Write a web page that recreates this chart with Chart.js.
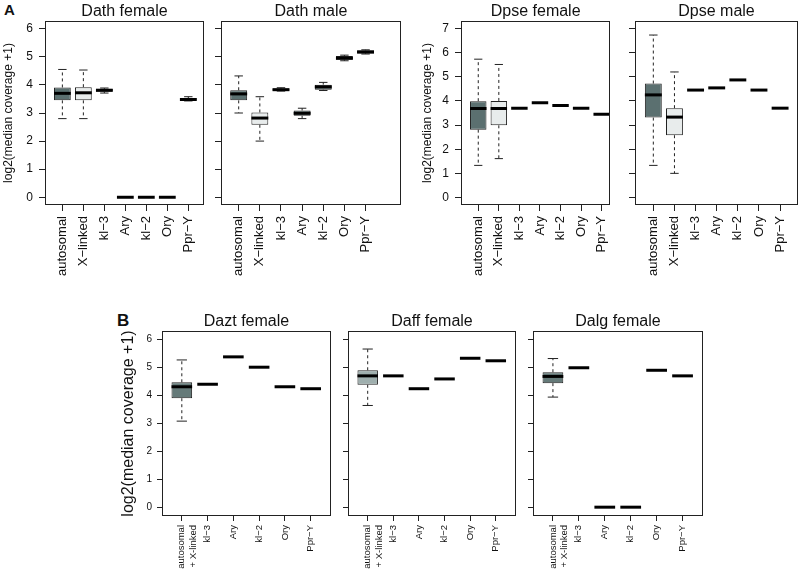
<!DOCTYPE html>
<html>
<head>
<meta charset="utf-8">
<script src="https://cdn.jsdelivr.net/npm/chart.js@4.4.1/dist/chart.umd.min.js"></script>
<style>
body { margin: 0; background: #fff; width: 800px; height: 579px; position: relative; overflow: hidden; font-family: "Liberation Sans", Arial, sans-serif; }
canvas { position: absolute; }
.tag { position: absolute; font-weight: bold; color: #111; }
</style>
</head>
<body>
<div class="tag" style="left:4px;top:1px;font-size:15px">A</div>
<div class="tag" style="left:117px;top:311px;font-size:17px">B</div>
<canvas id="dathF"></canvas>
<canvas id="dathM"></canvas>
<canvas id="dpseF"></canvas>
<canvas id="dpseM"></canvas>
<canvas id="daztF"></canvas>
<canvas id="daffF"></canvas>
<canvas id="dalgF"></canvas>
<script>
// categories
var catsA = ["autosomal", "X\u2212linked", "kl\u22123", "Ary", "kl\u22122", "Ory", "Ppr\u2212Y"];
var catsB = [["autosomal", "+ X-linked"], "kl\u22123", "Ary", "kl\u22122", "Ory", "Ppr\u2212Y"];

// y tick labels
var ticksDath = [0, 1, 2, 3, 4, 5, 6];
var ticksDpse = [0, 1, 2, 3, 4, 5, 6, 7];
var ticksB = [0, 1, 2, 3, 4, 5, 6];

// Dath female
var dathF_min = [2.80, 2.80, 3.71, 0, 0, 0, 3.43];
var dathF_q1  = [3.45, 3.45, 3.76, 0, 0, 0, 3.44];
var dathF_med = [3.70, 3.72, 3.81, 0, 0, 0, 3.48];
var dathF_q3  = [3.91, 3.92, 3.86, 0, 0, 0, 3.53];
var dathF_max = [4.55, 4.53, 3.89, 0, 0, 0, 3.58];

// Dath male
var dathM_min = [3.00, 2.00, 3.78, 2.80, 3.80, 4.86, 5.10];
var dathM_q1  = [3.45, 2.58, 3.79, 2.90, 3.83, 4.90, 5.12];
var dathM_med = [3.68, 2.82, 3.83, 2.99, 3.93, 4.95, 5.17];
var dathM_q3  = [3.81, 3.02, 3.87, 3.09, 4.01, 5.03, 5.23];
var dathM_max = [4.32, 3.58, 3.90, 3.17, 4.09, 5.06, 5.25];

// Dpse female
var dpseF_min = [1.33, 1.61, 3.70, 3.92, 3.81, 3.70, 3.45];
var dpseF_q1  = [2.81, 2.99, 3.70, 3.92, 3.81, 3.70, 3.45];
var dpseF_med = [3.69, 3.69, 3.70, 3.92, 3.81, 3.70, 3.45];
var dpseF_q3  = [3.99, 4.00, 3.70, 3.92, 3.81, 3.70, 3.45];
var dpseF_max = [5.73, 5.51, 3.70, 3.92, 3.81, 3.70, 3.45];

// Dpse male
var dpseM_min = [1.33, 1.00, 4.45, 4.54, 4.87, 4.45, 3.70];
var dpseM_q1  = [3.31, 2.58, 4.45, 4.54, 4.87, 4.45, 3.70];
var dpseM_med = [4.25, 3.33, 4.45, 4.54, 4.87, 4.45, 3.70];
var dpseM_q3  = [4.72, 3.70, 4.45, 4.54, 4.87, 4.45, 3.70];
var dpseM_max = [6.73, 5.20, 4.45, 4.54, 4.87, 4.45, 3.70];

// Dazt female
var daztF_min = [3.08, 4.40, 5.38, 5.01, 4.31, 4.24];
var daztF_q1  = [3.90, 4.40, 5.38, 5.01, 4.31, 4.24];
var daztF_med = [4.31, 4.40, 5.38, 5.01, 4.31, 4.24];
var daztF_q3  = [4.47, 4.40, 5.38, 5.01, 4.31, 4.24];
var daztF_max = [5.27, 4.40, 5.38, 5.01, 4.31, 4.24];

// Daff female
var daffF_min = [3.64, 4.70, 4.24, 4.59, 5.33, 5.24];
var daffF_q1  = [4.38, 4.70, 4.24, 4.59, 5.33, 5.24];
var daffF_med = [4.70, 4.70, 4.24, 4.59, 5.33, 5.24];
var daffF_q3  = [4.90, 4.70, 4.24, 4.59, 5.33, 5.24];
var daffF_max = [5.66, 4.70, 4.24, 4.59, 5.33, 5.24];

// Dalg female
var dalgF_min = [3.94, 4.99, 0, 0, 4.90, 4.70];
var dalgF_q1  = [4.44, 4.99, 0, 0, 4.90, 4.70];
var dalgF_med = [4.68, 4.99, 0, 0, 4.90, 4.70];
var dalgF_q3  = [4.83, 4.99, 0, 0, 4.90, 4.70];
var dalgF_max = [5.32, 4.99, 0, 0, 4.90, 4.70];

Chart.defaults.font.family = '"Liberation Sans", Arial, Helvetica, sans-serif';
Chart.defaults.color = '#111';

var frame = {
    id: 'frame',
    afterDatasetsDraw: function (chart) {
        var a = chart.chartArea, ctx = chart.ctx;
        ctx.save();
        ctx.strokeStyle = '#222';
        ctx.lineWidth = 1;
        var l = Math.round(a.left) - 0.5, t = Math.round(a.top) - 0.5;
        ctx.strokeRect(l, t, Math.round(a.right) - Math.round(a.left) + 1, Math.round(a.bottom) - Math.round(a.top) + 1);
        ctx.restore();
    }
};

var dark = '#5b7070', light = '#e8ecec';

// pixel width of a span of x units
function xWidth(units) {
    return function (c) {
        var s = c.chart.scales.x;
        return Math.abs(s.getPixelForValue(1 + units) - s.getPixelForValue(1));
    };
}

function boxPanel(id, p) {
    var el = document.getElementById(id);
    var left = p.area[0] - p.yW;
    var w = p.area[2] - left + 10;
    var h = p.area[3] - p.top0 + p.xH;
    el.width = w; el.height = h;
    el.style.left = left + 'px'; el.style.top = p.top0 + 'px';
    el.style.width = w + 'px'; el.style.height = h + 'px';

    var pos = p.cats.map(function (c, i) { return i + 1; });
    var whisk = [], caps = [];
    pos.forEach(function (x, i) {
        whisk.push({ x: x, y: p.q3[i] }, { x: x, y: p.max[i] }, { x: x, y: null },
                   { x: x, y: p.q1[i] }, { x: x, y: p.min[i] }, { x: x, y: null });
        caps.push({ x: x, y: p.max[i] }, { x: x, y: p.min[i] });
    });

    var ttSize = 16;
    var tPadTop = p.titleY - p.top0 - ttSize * 0.6;
    var tPadBot = p.area[1] - p.top0 - ttSize * 1.2 - tPadTop;

    new Chart(el, {
        type: 'bar',
        data: {
            datasets: [{
                type: 'line',
                data: caps,
                showLine: false,
                pointStyle: 'line',
                pointRadius: xWidth(0.2),
                pointBorderColor: '#222',
                pointBorderWidth: 1,
                order: 1
            }, {
                type: 'line',
                data: pos.map(function (x, i) { return { x: x, y: p.med[i] }; }),
                showLine: false,
                pointStyle: 'line',
                pointRadius: xWidth(0.4),
                pointBorderColor: '#000',
                pointBorderWidth: 3,
                order: 0
            }, {
                type: 'bar',
                data: pos.map(function (x, i) { return { x: x, y: [p.q1[i], p.q3[i]] }; }),
                backgroundColor: p.fills,
                borderColor: '#222',
                borderWidth: 1,
                borderSkipped: false,
                barPercentage: 0.8,
                categoryPercentage: 1,
                order: 2
            }, {
                type: 'line',
                data: whisk,
                borderColor: '#222',
                borderWidth: 1,
                borderDash: [3, 3],
                pointRadius: 0,
                spanGaps: false,
                order: 3
            }]
        },
        options: {
            responsive: false,
            animation: false,
            events: [],
            layout: { padding: { left: 0, right: 10, top: 0, bottom: 0 } },
            plugins: {
                legend: { display: false },
                tooltip: { enabled: false },
                title: {
                    display: true,
                    text: p.title,
                    fullSize: false,
                    color: '#111',
                    font: { size: ttSize, weight: 'normal' },
                    padding: { top: tPadTop, bottom: tPadBot }
                }
            },
            scales: {
                x: {
                    type: 'linear',
                    min: p.xMin,
                    max: p.xMax,
                    offset: false,
                    afterBuildTicks: function (s) { s.ticks = pos.map(function (v) { return { value: v }; }); },
                    afterFit: function (s) { s.height = p.xH; },
                    ticks: {
                        autoSkip: false,
                        minRotation: 90,
                        maxRotation: 90,
                        padding: p.xPad,
                        color: '#111',
                        font: { size: p.xFont },
                        callback: function (v) { return p.cats[v - 1]; }
                    },
                    grid: { drawOnChartArea: false, offset: false, tickLength: p.tick, color: '#222' },
                    border: { display: false }
                },
                y: {
                    type: 'linear',
                    min: p.yMin,
                    max: p.yMax,
                    afterBuildTicks: function (s) { s.ticks = p.yTicks.map(function (v) { return { value: v }; }); },
                    afterFit: function (s) { s.width = p.yW; },
                    ticks: { display: p.yLabels, padding: p.yPad, color: '#111', font: { size: p.yFont } },
                    grid: { drawOnChartArea: false, tickLength: p.tick, color: '#222' },
                    border: { display: false },
                    title: {
                        display: !!p.yTitle,
                        text: p.yTitle || '',
                        color: '#111',
                        font: { size: p.yTitleSize },
                        padding: { top: p.yTitlePad || 0, bottom: 0 }
                    }
                }
            }
        },
        plugins: [frame]
    });
}

var yLab = 'log2(median coverage +1)';
var fillsA = [dark, light, dark, dark, dark, dark, dark];

var baseA = { cats: catsA, top0: 0, titleY: 11.7, xH: 80, xFont: 13, xPad: 5, yFont: 12, yPad: 6, tick: 7, fills: fillsA };
var baseB = { cats: catsB, top0: 300, titleY: 321.7, xH: 64, xFont: 9.5, xPad: 4, yFont: 10, yPad: 5, tick: 6,
    yTicks: ticksB, yMin: -0.28, yMax: 6.27, xMin: 0.27, xMax: 6.75 };

function ext(a, b) { var o = {}; for (var k in a) o[k] = a[k]; for (var k2 in b) o[k2] = b[k2]; return o; }

boxPanel('dathF', ext(baseA, {
    title: 'Dath female', area: [46, 22, 203, 204], yW: 46, yLabels: true,
    yTitle: yLab, yTitleSize: 12, yTitlePad: 1.8,
    xMin: 0.22, xMax: 7.7, yMin: -0.24, yMax: 6.24, yTicks: ticksDath,
    min: dathF_min, q1: dathF_q1, med: dathF_med, q3: dathF_q3, max: dathF_max
}));
boxPanel('dathM', ext(baseA, {
    title: 'Dath male', area: [222, 22, 400, 204], yW: 8, yLabels: false,
    xMin: 0.21, xMax: 8.63, yMin: -0.24, yMax: 6.24, yTicks: ticksDath,
    min: dathM_min, q1: dathM_q1, med: dathM_med, q3: dathM_q3, max: dathM_max
}));
boxPanel('dpseF', ext(baseA, {
    title: 'Dpse female', area: [462, 22, 613, 204], yW: 46, yLabels: true,
    yTitle: yLab, yTitleSize: 12, yTitlePad: 4.8,
    xMin: 0.21, xMax: 7.37, yMin: -0.27, yMax: 7.27, yTicks: ticksDpse,
    min: dpseF_min, q1: dpseF_q1, med: dpseF_med, q3: dpseF_q3, max: dpseF_max
}));
boxPanel('dpseM', ext(baseA, {
    title: 'Dpse male', area: [636, 22, 797, 204], yW: 8, yLabels: false,
    xMin: 0.18, xMax: 7.8, yMin: -0.27, yMax: 7.27, yTicks: ticksDpse,
    min: dpseM_min, q1: dpseM_q1, med: dpseM_med, q3: dpseM_q3, max: dpseM_max
}));
boxPanel('daztF', ext(baseB, {
    title: 'Dazt female', area: [163, 332, 330, 515], yW: 53, yLabels: true,
    yTitle: yLab, yTitleSize: 16, yTitlePad: 8.7,
    fills: ['#657a79', dark, dark, dark, dark, dark],
    min: daztF_min, q1: daztF_q1, med: daztF_med, q3: daztF_q3, max: daztF_max
}));
boxPanel('daffF', ext(baseB, {
    title: 'Daff female', area: [349, 332, 515, 515], yW: 7, yLabels: false,
    fills: ['#9fafae', dark, dark, dark, dark, dark],
    min: daffF_min, q1: daffF_q1, med: daffF_med, q3: daffF_q3, max: daffF_max
}));
boxPanel('dalgF', ext(baseB, {
    title: 'Dalg female', area: [534, 332, 702, 515], yW: 7, yLabels: false,
    fills: ['#657a79', dark, dark, dark, dark, dark],
    min: dalgF_min, q1: dalgF_q1, med: dalgF_med, q3: dalgF_q3, max: dalgF_max
}));
</script>
</body>
</html>
